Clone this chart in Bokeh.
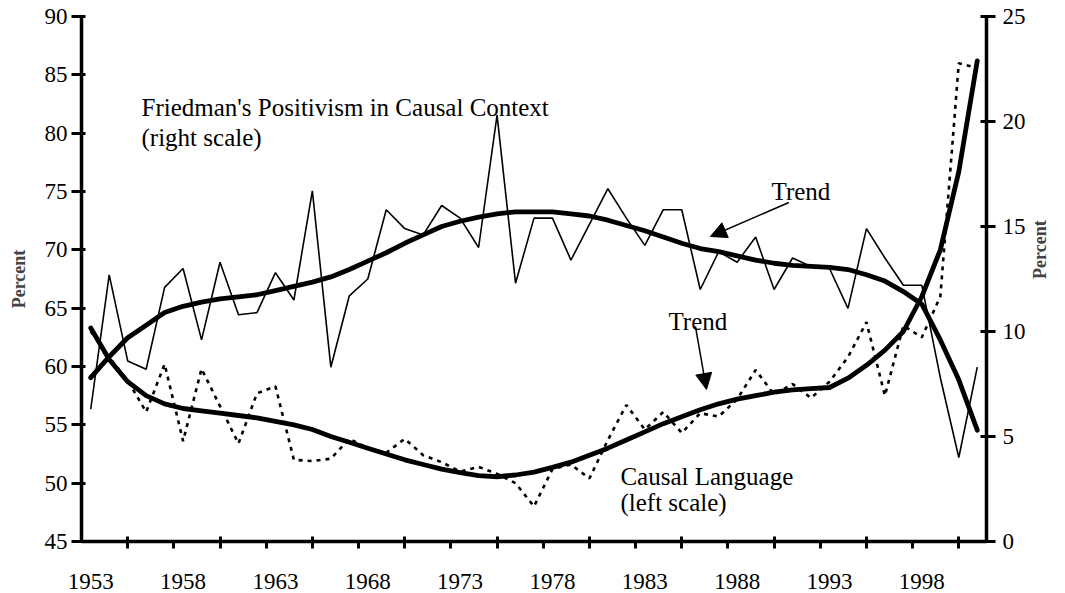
import math
from bokeh.plotting import figure
from bokeh.models import Range1d, LinearAxis, FixedTicker, Label, Arrow, NormalHead
from bokeh.embed import file_html
from bokeh.resources import INLINE

# ---------------- data ----------------
years = list(range(1953, 2002))

# Causal Language (left scale, percent)
causal = [63.0, 60.8, 58.8, 56.1, 60.2, 53.6, 59.8, 56.6, 53.4, 57.7,
          58.3, 52.0, 51.9, 52.1, 53.8, 53.0, 52.6, 53.8, 52.4, 51.8,
          51.0, 51.4, 50.8, 50.0, 48.0, 51.2, 51.6, 50.4, 53.7, 56.7,
          54.6, 56.1, 54.3, 56.0, 55.7, 57.2, 59.7, 57.6, 58.5, 57.3,
          58.7, 60.8, 63.8, 57.5, 63.5, 62.5, 66.0, 86.0, 85.6]

causal_trend = [63.3, 60.6, 58.7, 57.5, 56.8, 56.4, 56.2, 56.0, 55.8, 55.6,
                55.3, 55.0, 54.6, 54.0, 53.5, 53.0, 52.5, 52.0, 51.6, 51.2,
                50.9, 50.65, 50.55, 50.7, 50.95, 51.35, 51.8, 52.4, 53.0, 53.7,
                54.4, 55.1, 55.7, 56.3, 56.8, 57.2, 57.5, 57.8, 58.0, 58.1,
                58.2, 59.0, 60.1, 61.4, 63.0, 66.0, 70.0, 76.7, 86.2]

# Friedman's Positivism in Causal Context (right scale, percent)
friedman = [6.3, 12.7, 8.6, 8.2, 12.1, 13.0, 9.6, 13.3, 10.8, 10.9,
            12.8, 11.5, 16.7, 8.3, 11.7, 12.5, 15.8, 14.9, 14.6, 16.0,
            15.4, 14.0, 20.3, 12.3, 15.4, 15.4, 13.4, 15.1, 16.8, 15.4,
            14.1, 15.8, 15.8, 12.0, 13.8, 13.3, 14.5, 12.0, 13.5, 13.1,
            13.0, 11.1, 14.9, 13.5, 12.2, 12.2, 7.8, 4.0, 8.3]

friedman_trend = [7.8, 8.8, 9.7, 10.3, 10.9, 11.2, 11.4, 11.55, 11.65, 11.75,
                  11.95, 12.15, 12.35, 12.6, 12.95, 13.35, 13.75, 14.2, 14.6, 15.0,
                  15.25, 15.45, 15.6, 15.7, 15.7, 15.7, 15.6, 15.5, 15.3, 15.05,
                  14.8, 14.5, 14.2, 13.95, 13.8, 13.6, 13.4, 13.25, 13.15, 13.1,
                  13.05, 12.95, 12.7, 12.4, 11.9, 11.3, 9.6, 7.7, 5.3]

x_labels = [1953, 1958, 1963, 1968, 1973, 1978, 1983, 1988, 1993, 1998]
left_ticks = [45, 50, 55, 60, 65, 70, 75, 80, 85, 90]
right_ticks = [0, 5, 10, 15, 20, 25]

# ---------------- styling ----------------
SERIF = "Liberation Serif"
TICK_SIZE = "23px"
NOTE_SIZE = "25px"

p = figure(width=1065, height=592, output_backend="svg", toolbar_location=None,
           x_range=Range1d(1952.5, 2001.5), y_range=Range1d(45, 90),
           min_border_left=81, min_border_right=79, min_border_top=16,
           min_border_bottom=51)
p.outline_line_color = None
p.grid.visible = False
p.background_fill_color = "white"

p.extra_y_ranges = {"right": Range1d(0, 25)}

# bottom tick axis (tick marks only)
xa = p.xaxis[0]
major_x = [1952.5 + 2.5 * k for k in range(1, 20) if k % 2 == 1]
minor_x = [1952.5 + 2.5 * k for k in range(1, 20) if k % 2 == 0]
xa.ticker = FixedTicker(ticks=major_x, minor_ticks=minor_x)
xa.major_label_text_font_size = "0px"
xa.major_label_text_color = None
xa.major_label_standoff = 0
xa.axis_line_width = 3.5
xa.major_tick_line_width = 3
xa.minor_tick_line_width = 3
xa.major_tick_in = 5
xa.major_tick_out = 7
xa.minor_tick_in = 0
xa.minor_tick_out = 7

# bottom label axis
xl = LinearAxis(ticker=FixedTicker(ticks=x_labels, minor_ticks=[]))
xl.axis_line_color = None
xl.major_tick_line_color = None
xl.minor_tick_line_color = None
xl.major_tick_in = 0
xl.major_tick_out = 0
xl.major_label_standoff = 25
xl.major_label_text_font = SERIF
xl.major_label_text_font_size = TICK_SIZE
xl.major_label_text_color = "black"
p.add_layout(xl, "below")

# left axis
ya = p.yaxis[0]
ya.ticker = FixedTicker(ticks=left_ticks, minor_ticks=[])
ya.axis_line_width = 3.5
ya.major_tick_line_width = 3
ya.major_tick_in = 4
ya.major_tick_out = 10
ya.minor_tick_line_color = None
ya.major_label_standoff = 4
ya.major_label_text_font = SERIF
ya.major_label_text_font_size = TICK_SIZE
ya.major_label_text_color = "black"
ya.axis_label = "Percent"
ya.axis_label_text_font = SERIF
ya.axis_label_text_font_style = "bold"
ya.axis_label_text_font_size = "18px"
ya.axis_label_standoff = 13

# right axis
yr = LinearAxis(y_range_name="right", ticker=FixedTicker(ticks=right_ticks, minor_ticks=[]))
yr.axis_line_width = 3.5
yr.major_tick_line_width = 3
yr.major_tick_in = 6
yr.major_tick_out = 9
yr.minor_tick_line_color = None
yr.major_label_standoff = 7
yr.major_label_text_font = SERIF
yr.major_label_text_font_size = TICK_SIZE
yr.major_label_text_color = "black"
yr.axis_label = "Percent"
yr.axis_label_text_font = SERIF
yr.axis_label_text_font_style = "bold"
yr.axis_label_text_font_size = "18px"
yr.axis_label_standoff = 11
yr.axis_label_orientation = math.pi / 2
p.add_layout(yr, "right")

# ---------------- series ----------------
p.line(years, friedman, y_range_name="right", line_color="black", line_width=1.6)
p.line(years, causal, line_color="black", line_width=2.6, line_dash="4 5")
p.line(years, friedman_trend, y_range_name="right", line_color="black",
       line_width=4.8, line_join="round", line_cap="round")
p.line(years, causal_trend, line_color="black", line_width=4.8,
       line_join="round", line_cap="round")

# ---------------- annotations ----------------
def note(x, y, text):
    p.add_layout(Label(x=x, y=y, text=text, text_font=SERIF, text_font_size=NOTE_SIZE,
                       text_color="black", text_baseline="alphabetic"))

note(1955.75, 82.2, "Friedman's Positivism in Causal Context")
note(1955.75, 79.6, "(right scale)")
note(1989.86, 75.0, "Trend")
note(1984.28, 63.86, "Trend")
note(1981.68, 50.57, "Causal Language")
note(1981.68, 48.34, "(left scale)")

p.add_layout(Arrow(end=NormalHead(size=16, fill_color="black", line_color="black"),
                   x_start=1990.8, y_start=74.06, x_end=1986.55, y_end=71.14,
                   line_color="black", line_width=1.5))
p.add_layout(Arrow(end=NormalHead(size=16, fill_color="black", line_color="black"),
                   x_start=1985.74, y_start=63.43, x_end=1986.34, y_end=58.03,
                   line_color="black", line_width=1.5))

open("out.html", "w").write(file_html(p, INLINE))
